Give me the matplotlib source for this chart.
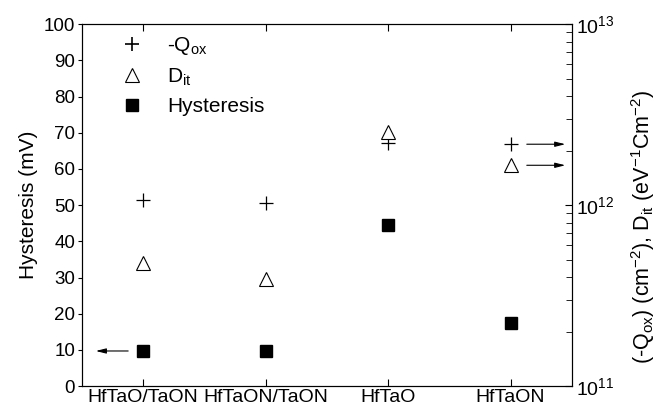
import matplotlib
matplotlib.use("Agg")
import matplotlib.pyplot as plt
from matplotlib.lines import Line2D

plt.rcParams['font.family'] = ['Liberation Sans', 'DejaVu Sans']
plt.rcParams['mathtext.fontset'] = 'custom'
plt.rcParams['mathtext.rm'] = 'Liberation Sans'
plt.rcParams['mathtext.it'] = 'Liberation Sans:italic'
plt.rcParams['mathtext.default'] = 'regular'

# data
samples = ['HfTaO/TaON', 'HfTaON/TaON', 'HfTaO', 'HfTaON']
hysteresis = [9.7, 9.8, 44.5, 17.5]          # mV (left axis)
qox = [1.07e12, 1.03e12, 2.2e12, 2.17e12]    # cm^-2 (right axis)
dit = [4.8e11, 3.9e11, 2.55e12, 1.66e12]     # eV^-1 cm^-2 (right axis)

x = list(range(len(samples)))

fig = plt.figure(figsize=(6.61, 4.09), dpi=100)
ax = fig.add_axes([0.124, 0.056, 0.741, 0.885])
ax2 = ax.twinx()

ax.plot(x, hysteresis, 's', color='k', ms=8, ls='none')
ax2.plot(x, qox, '+', color='k', ms=10, mew=0.9, ls='none')
ax2.plot(x, dit, '^', mfc='white', mec='k', ms=10, mew=0.8, ls='none')

ax.set_xlim(-0.5, 3.5)
ax.set_ylim(0, 100)
ax.set_yticks(range(0, 101, 10))
ax.set_xticks(x)
ax.set_xticklabels(samples)
ax.set_ylabel('Hysteresis (mV)', fontsize=15, labelpad=4)
ax.tick_params(axis='y', direction='out', length=3, labelsize=13.5, pad=2)
ax.tick_params(axis='x', direction='in', length=5, labelsize=14, top=True, pad=2)

ax2.set_yscale('log')
ax2.set_ylim(1e11, 1e13)
ax2.tick_params(axis='y', which='major', direction='in', length=5, labelsize=14, pad=3)
ax2.tick_params(axis='y', which='minor', direction='in', length=4)
ax2.set_ylabel(r'(-Q$_{ox}$) (cm$^{-2}$), D$_{it}$ (eV$^{-1}$Cm$^{-2}$)', fontsize=15.5)
ax2.yaxis.set_label_coords(1.118, 0.44)

# arrows pointing to the matching axis
arrow = dict(arrowstyle='-|>,head_length=0.6,head_width=0.15', color='k', lw=0.8)
ax.annotate('', xy=(-0.41, hysteresis[0]), xytext=(-0.1, hysteresis[0]), arrowprops=arrow)
ax2.annotate('', xy=(3.47, qox[3]), xytext=(3.11, qox[3]), arrowprops=arrow)
ax2.annotate('', xy=(3.47, dit[3]), xytext=(3.11, dit[3]), arrowprops=arrow)

handles = [
    Line2D([], [], marker='+', color='k', ls='none', ms=10, mew=1.2),
    Line2D([], [], marker='^', mfc='white', mec='k', ls='none', ms=10, mew=0.8),
    Line2D([], [], marker='s', color='k', ls='none', ms=8),
]
ax.legend(handles, [r'-Q$_{ox}$', r'D$_{it}$', 'Hysteresis'], loc='upper left',
          bbox_to_anchor=(0.03, 1.01), frameon=False, fontsize=15,
          handletextpad=0.7, labelspacing=0.45, borderaxespad=0.3)

fig.savefig('out.png', dpi=100)
